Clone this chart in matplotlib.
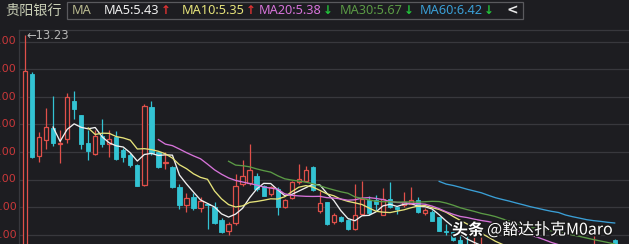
import numpy as np
import pandas as pd
import matplotlib
matplotlib.use("Agg")
import matplotlib.pyplot as plt
from matplotlib.patches import Rectangle
import matplotlib.patheffects as pe

plt.rcParams['font.family'] = ['Noto Sans CJK SC', 'DejaVu Sans']

# ---------------- data ----------------
opens = [4.90, 11.83, 8.86, 9.44, 9.87, 9.28, 9.47, 10.86, 10.32, 9.32,
         8.93, 9.56, 9.29, 9.53, 9.08, 8.90, 8.51, 7.81, 10.62, 8.99,
         8.60, 8.47, 7.72, 7.09, 7.36, 6.97, 7.13, 7.00, 6.54, 6.15,
         6.42, 7.84, 7.87, 8.11, 7.78, 7.48, 7.66, 7.00, 7.34, 7.90,
         7.96, 8.45, 6.85, 7.18, 6.45, 6.63, 6.54, 6.21, 6.76, 7.26,
         7.24, 6.73, 7.30, 7.00, 7.06, 7.12, 7.24, 6.78, 6.82, 6.63,
         6.15, 6.08, 5.82, 5.65, 5.50, 5.50, 5.52, 5.46, 5.40, 5.38,
         5.42, 5.44, 5.40, 5.36, 5.38, 5.35, 5.30, 5.25, 5.22, 5.28,
         5.30, 5.35, 5.55, 5.45, 5.79]
highs = [13.23, 11.90, 9.71, 10.60, 11.02, 9.78, 11.14, 11.20, 10.35, 9.78,
         9.78, 10.20, 9.80, 9.75, 9.15, 8.95, 8.55, 10.75, 10.83, 9.00,
         8.99, 8.50, 7.85, 7.52, 7.52, 7.36, 7.15, 7.18, 6.60, 6.45,
         8.20, 8.69, 9.27, 8.25, 7.80, 7.78, 7.72, 7.30, 7.95, 8.57,
         8.50, 8.48, 7.60, 7.20, 6.80, 6.68, 6.58, 7.84, 7.94, 7.40,
         7.44, 7.69, 7.90, 7.05, 7.54, 7.72, 7.35, 6.95, 6.90, 6.65,
         6.40, 6.12, 5.95, 6.00, 5.97, 5.92, 5.60, 5.55, 5.48, 5.50,
         5.55, 5.48, 5.45, 5.42, 5.40, 5.38, 5.33, 5.28, 5.32, 5.35,
         5.40, 5.97, 5.60, 5.50, 5.85]
lows = [4.80, 8.78, 8.63, 9.11, 9.23, 8.59, 9.32, 10.20, 9.09, 8.69,
        8.90, 9.17, 8.81, 8.70, 8.62, 8.45, 7.76, 7.78, 8.90, 8.40,
        8.37, 7.70, 6.94, 6.84, 6.90, 6.84, 6.22, 6.40, 6.05, 5.98,
        6.35, 7.78, 7.80, 7.60, 7.40, 7.40, 6.70, 6.95, 7.30, 7.85,
        7.90, 7.60, 6.80, 6.35, 6.38, 6.45, 6.18, 6.18, 6.74, 6.70,
        6.88, 6.70, 6.95, 6.75, 7.00, 7.10, 6.80, 6.70, 6.48, 6.12,
        5.98, 5.76, 5.55, 5.50, 5.45, 5.45, 5.40, 5.35, 5.30, 5.32,
        5.38, 5.36, 5.30, 5.30, 5.30, 5.26, 5.20, 5.15, 5.18, 5.24,
        5.28, 5.33, 5.40, 5.33, 5.36]
closes = [11.92, 8.81, 9.53, 9.92, 9.32, 9.32, 10.98, 10.54, 9.29, 9.05,
          9.56, 9.27, 9.47, 8.75, 8.83, 8.51, 7.78, 10.66, 8.95, 8.45,
          8.63, 7.72, 7.06, 7.34, 6.97, 7.21, 7.08, 6.42, 6.09, 6.39,
          7.75, 8.14, 8.33, 7.66, 7.42, 7.72, 7.00, 7.26, 7.90, 8.02,
          8.33, 7.63, 7.14, 6.39, 6.70, 6.49, 6.21, 6.73, 7.30, 6.78,
          7.12, 7.30, 7.00, 6.92, 7.18, 7.24, 6.82, 6.90, 6.51, 6.15,
          6.08, 5.80, 5.60, 5.58, 5.54, 5.52, 5.45, 5.40, 5.38, 5.42,
          5.44, 5.40, 5.36, 5.38, 5.35, 5.30, 5.25, 5.22, 5.28, 5.30,
          5.35, 5.55, 5.45, 5.38, 5.42]

stock_name = "贵阳银行"
ma_periods = [5, 10, 20, 30, 60]
ma_labels = ["MA5:5.43", "MA10:5.35", "MA20:5.38", "MA30:5.67", "MA60:6.42"]
ma_up = [True, True, False, False, False]
y_ticks = [13, 12, 11, 10, 9, 8, 7, 6]
max_label = "←13.23"
watermark_a = "头条"
watermark_b = "@豁达扑克M0aro"

# ---------------- styling ----------------
BG = "#1d1d21"
GRID = "#38383d"
UP = "#e0504a"
DOWN = "#33c3d3"
MA_COLORS = ["#f0f0f0", "#e6e37a", "#d673d9", "#5b9a45", "#3a9fd6"]

W, H = 629, 244
fig = plt.figure(figsize=(W / 100, H / 100), dpi=100, facecolor=BG)

# plot area
left_px, top_px = 19, 30
ax = fig.add_axes([left_px / W, 0, (W - left_px) / W, (H - top_px) / H])
ax.set_facecolor(BG)

n = len(closes)
x = np.arange(n)
step = 7.02
ax.set_xlim(-6 / step, -6 / step + (W - left_px) / step)
y13 = 41.5
ppu = 27.6
ax.set_ylim(13 - (H - y13) / ppu, 13 + (y13 - top_px) / ppu)

for t in y_ticks:
    ax.axhline(t, color=GRID, lw=0.9, zorder=0)

for s in ["right", "bottom"]:
    ax.spines[s].set_visible(False)
for s in ["top", "left"]:
    ax.spines[s].set_color(GRID)
    ax.spines[s].set_linewidth(0.9)
ax.set_xticks([])
ax.set_yticks([])

# candles
o = np.array(opens); h = np.array(highs); l = np.array(lows); c = np.array(closes)
up = c >= o
bw = 0.62
ax.vlines(x[up], l[up], h[up], color=UP, lw=0.9, zorder=2)
ax.vlines(x[~up], l[~up], h[~up], color=DOWN, lw=0.9, zorder=2)
bottoms = np.minimum(o, c)
heights = np.maximum(np.abs(c - o), 0.03)
ax.bar(x[up], heights[up], bottom=bottoms[up], width=bw, facecolor=BG,
       edgecolor=UP, linewidth=0.9, zorder=3)
ax.bar(x[~up], heights[~up], bottom=bottoms[~up], width=bw, facecolor=DOWN,
       edgecolor=DOWN, linewidth=0.6, zorder=3)

# moving averages
cs = pd.Series(closes)
for p, col in zip(ma_periods, MA_COLORS):
    ax.plot(x, cs.rolling(p).mean(), color=col, lw=0.95, zorder=4)

# max annotation
ax.text(0.25, 13.23, max_label, color="#b5b5b5", fontsize=8.3, va="center",
        ha="left", family=["DejaVu Sans"], zorder=5)

# y labels (partly cut off at the left edge, as in the source screenshot)
for t in y_ticks:
    yy = 1 - (y13 + (13 - t) * ppu) / H
    fig.text(16.5 / W, yy, f"{t:.2f}", color="#c8383a", fontsize=8,
             ha="right", va="center", family=["DejaVu Sans"])

# header
fig.text(5 / W, 1 - 11 / H, stock_name, color="#c9cfb6", fontsize=10.2,
         ha="left", va="center")
fig.patches.append(Rectangle((67 / W, 1 - 19 / H), (523 - 67) / W, 17.5 / H,
                             transform=fig.transFigure, fill=False,
                             edgecolor="#5a5a5e", linewidth=0.9))
fig.text(72 / W, 1 - 10 / H, "MA", color="#b9b98f", fontsize=9.2, ha="left",
         va="center", family=["Noto Sans"])
xs = [104, 182, 259, 340, 420]
for xi, lab, col, u in zip(xs, ma_labels, MA_COLORS, ma_up):
    t = fig.text(xi / W, 1 - 10 / H, lab, color=col, fontsize=9.2, ha="left",
                 va="center", family=["Noto Sans"])
    fig.canvas.draw()
    bb = t.get_window_extent()
    fig.text((bb.x1 + 1) / W, 1 - 10 / H, "↑" if u else "↓",
             color="#e03232" if u else "#22c43a", fontsize=8.5, fontweight="bold",
             ha="left", va="center", family=["DejaVu Sans"])
fig.text(506 / W, 1 - 10 / H, "<", color="#e8e8e8", fontsize=10,
         fontweight="bold", ha="left", va="center", family=["DejaVu Sans"])

# watermark
stroke = [pe.withStroke(linewidth=2.2, foreground="#1a1a1a")]
wa = fig.text(452 / W, 1 - 230 / H, watermark_a, color="white", fontsize=11.5,
              fontweight="bold", ha="left", va="center", path_effects=stroke)
fig.canvas.draw()
bb = wa.get_window_extent()
fig.text((bb.x1 + 3) / W, 1 - 230 / H, watermark_b, color="white",
         fontsize=11.5, ha="left", va="center", path_effects=stroke)

fig.savefig("out.png", dpi=100, facecolor=BG)
